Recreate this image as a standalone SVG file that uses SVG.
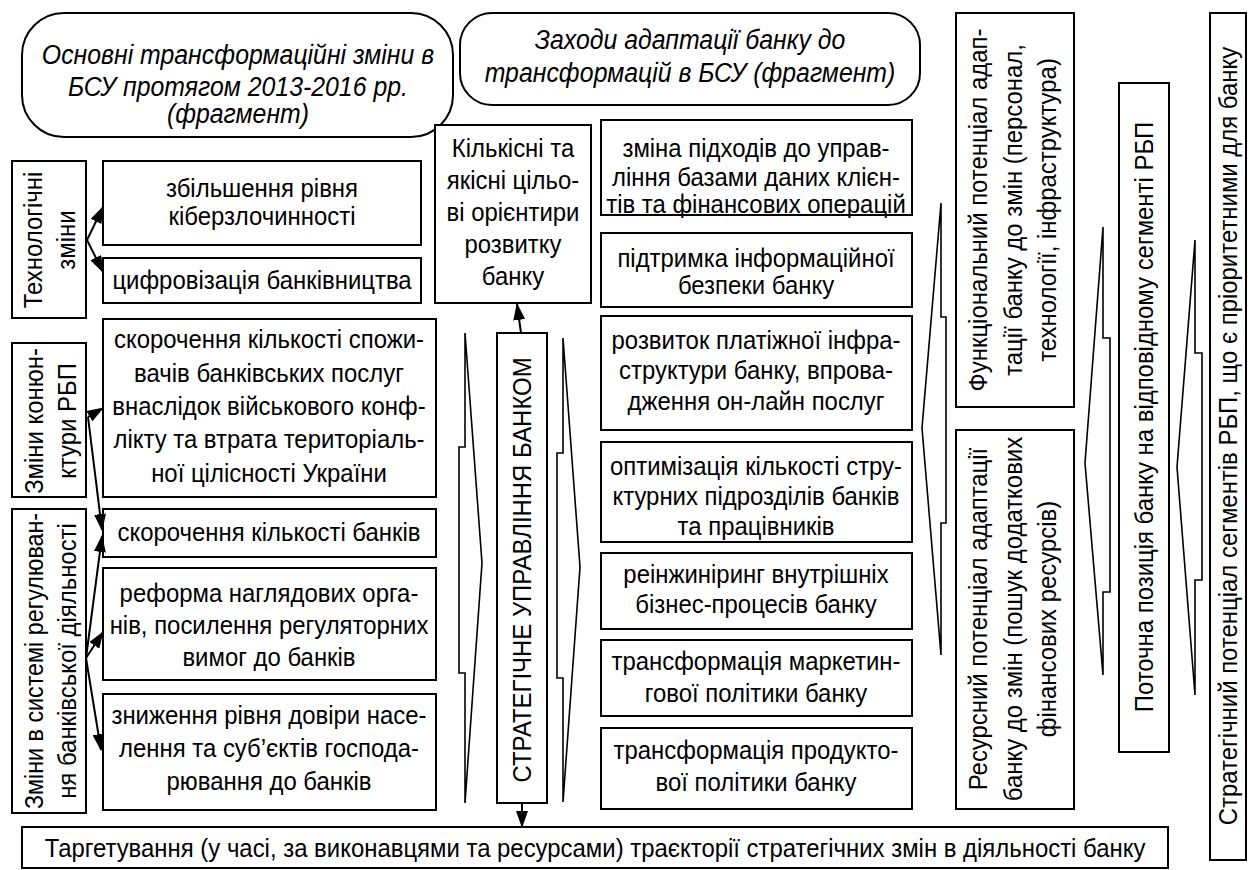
<svg xmlns="http://www.w3.org/2000/svg" width="1248" height="870" viewBox="0 0 1248 870">
<style>
.b{fill:#fff;stroke:#000;stroke-width:2}
.ch{fill:none;stroke:#000;stroke-width:1.6;stroke-linejoin:miter}
.t{font-family:"Liberation Sans",Arial,sans-serif;font-size:26px;text-anchor:middle;fill:#000}
.i{font-style:italic;font-size:27px}
.c{fill:none;stroke:#000;stroke-width:2}
</style>
<defs>
<marker id="ah" markerUnits="userSpaceOnUse" markerWidth="17" markerHeight="12" refX="16" refY="6" orient="auto">
<path d="M0,0 L17,6 L0,12 Z" fill="#000"/>
</marker>
</defs>
<rect width="1248" height="870" fill="#fff"/>

<g id="header1">
<rect class="b" x="22" y="13" width="431" height="124" rx="42" ry="42"/>
<text class="t i" transform="translate(238,64) scale(.92,1)">Основні трансформаційні зміни в</text>
<text class="t i" transform="translate(238,96) scale(.92,1)">БСУ протягом 2013-2016 рр.</text>
<text class="t i" transform="translate(238,123) scale(.92,1)">(фрагмент)</text>
</g>
<g id="header2">
<rect class="b" x="460" y="13" width="460" height="92" rx="32" ry="32"/>
<text class="t i" transform="translate(690,49) scale(.92,1)">Заходи адаптації банку до</text>
<text class="t i" transform="translate(690,82) scale(.92,1)">трансформацій  в БСУ (фрагмент)</text>
</g>

<g id="tech">
<rect class="b" x="12" y="161" width="74" height="157"/>
<text class="t" transform="translate(49,240) rotate(-90) scale(.92,1)"><tspan x="0" y="-7">Технологічні</tspan><tspan x="0" y="26">зміни</tspan></text>
</g>
<g id="konj">
<rect class="b" x="12" y="343" width="74" height="154"/>
<text class="t" transform="translate(49,421) rotate(-90) scale(.92,1)"><tspan x="0" y="-6">Зміни конюн-</tspan><tspan x="0" y="27">ктури РБП</tspan></text>
</g>
<g id="reg">
<rect class="b" x="12" y="509" width="74" height="304"/>
<text class="t" transform="translate(49,661) rotate(-90) scale(.92,1)"><tspan x="0" y="-6" textLength="322" lengthAdjust="spacingAndGlyphs">Зміни в системі регулюван-</tspan><tspan x="0" y="27">ня банківської діяльності</tspan></text>
</g>

<g id="l1">
<rect class="b" x="103" y="161" width="318" height="84"/>
<text class="t" transform="translate(262,197) scale(.92,1)">збільшення рівня</text>
<text class="t" transform="translate(262,225) scale(.92,1)">кіберзлочинності</text>
</g>
<g id="l2">
<rect class="b" x="103" y="258" width="318" height="45"/>
<text class="t" transform="translate(262,289) scale(.92,1)">цифровізація банківництва</text>
</g>
<g id="l3">
<rect class="b" x="103" y="319" width="333" height="178"/>
<text class="t" transform="translate(269,348) scale(.92,1)">скорочення кількості спожи-</text>
<text class="t" transform="translate(269,382) scale(.92,1)">вачів банківських послуг</text>
<text class="t" transform="translate(269,415) scale(.92,1)">внаслідок військового конф-</text>
<text class="t" transform="translate(269,448) scale(.92,1)">лікту та втрата територіаль-</text>
<text class="t" transform="translate(269,482) scale(.92,1)">ної цілісності України</text>
</g>
<g id="l4">
<rect class="b" x="103" y="509" width="333" height="48"/>
<text class="t" transform="translate(269,541) scale(.92,1)">скорочення кількості банків</text>
</g>
<g id="l5">
<rect class="b" x="103" y="568" width="333" height="112"/>
<text class="t" transform="translate(269,602) scale(.92,1)">реформа наглядових орга-</text>
<text class="t" transform="translate(269,634) scale(.92,1)">нів, посилення регуляторних</text>
<text class="t" transform="translate(269,666) scale(.92,1)">вимог до банків</text>
</g>
<g id="l6">
<rect class="b" x="103" y="694" width="333" height="116"/>
<text class="t" transform="translate(269,724) scale(.92,1)">зниження рівня довіри насе-</text>
<text class="t" transform="translate(269,757) scale(.92,1)">лення та суб’єктів господа-</text>
<text class="t" transform="translate(269,790) scale(.92,1)">рювання до банків</text>
</g>

<g id="target">
<rect class="b" x="435" y="125" width="156" height="178"/>
<text class="t" transform="translate(513,157) scale(.92,1)">Кількісні та</text>
<text class="t" transform="translate(513,189) scale(.92,1)">якісні цільо-</text>
<text class="t" transform="translate(513,221) scale(.92,1)">ві орієнтири</text>
<text class="t" transform="translate(513,253) scale(.92,1)">розвитку</text>
<text class="t" transform="translate(513,285) scale(.92,1)">банку</text>
</g>

<g id="strat">
<rect class="b" x="497" y="333" width="50" height="470"/>
<text class="t" transform="translate(522,570) rotate(-90) scale(.92,1)" x="0" y="9">СТРАТЕГІЧНЕ УПРАВЛІННЯ БАНКОМ</text>
</g>

<g id="m1">
<rect class="b" x="601" y="120" width="311" height="95"/>
<text class="t" transform="translate(756,157) scale(.92,1)">зміна підходів до управ-</text>
<text class="t" transform="translate(756,186) scale(.92,1)">ління базами даних клієн-</text>
<text class="t" transform="translate(756,213) scale(.92,1)">тів та фінансових операцій</text>
</g>
<g id="m2">
<rect class="b" x="601" y="233" width="311" height="74"/>
<text class="t" transform="translate(756,267) scale(.92,1)">підтримка інформаційної</text>
<text class="t" transform="translate(756,294) scale(.92,1)">безпеки банку</text>
</g>
<g id="m3">
<rect class="b" x="601" y="316" width="311" height="114"/>
<text class="t" transform="translate(756,349) scale(.92,1)">розвиток платіжної інфра-</text>
<text class="t" transform="translate(756,379) scale(.92,1)">структури банку, впрова-</text>
<text class="t" transform="translate(756,410) scale(.92,1)">дження он-лайн послуг</text>
</g>
<g id="m4">
<rect class="b" x="601" y="442" width="311" height="100"/>
<text class="t" transform="translate(756,475) scale(.92,1)">оптимізація кількості стру-</text>
<text class="t" transform="translate(756,505) scale(.92,1)">ктурних підрозділів банків</text>
<text class="t" transform="translate(756,535) scale(.92,1)">та працівників</text>
</g>
<g id="m5">
<rect class="b" x="601" y="553" width="311" height="76"/>
<text class="t" transform="translate(756,583) scale(.92,1)">реінжиніринг внутрішніх</text>
<text class="t" transform="translate(756,613) scale(.92,1)">бізнес-процесів банку</text>
</g>
<g id="m6">
<rect class="b" x="601" y="640" width="311" height="76"/>
<text class="t" transform="translate(756,670) scale(.92,1)">трансформація маркетин-</text>
<text class="t" transform="translate(756,702) scale(.92,1)">гової політики банку</text>
</g>
<g id="m7">
<rect class="b" x="601" y="728" width="311" height="81"/>
<text class="t" transform="translate(756,759) scale(.92,1)">трансформація продукто-</text>
<text class="t" transform="translate(756,791) scale(.92,1)">вої політики банку</text>
</g>

<g id="func">
<rect class="b" x="956" y="13" width="118" height="394"/>
<text class="t" transform="translate(1015,210) rotate(-90) scale(.92,1)"><tspan x="0" y="-28">Функціональний потенціал адап-</tspan><tspan x="0" y="7">тації банку до змін (персонал,</tspan><tspan x="0" y="41">технології, інфраструктура)</tspan></text>
</g>
<g id="res">
<rect class="b" x="956" y="430" width="118" height="379"/>
<text class="t" transform="translate(1015,619) rotate(-90) scale(.92,1)"><tspan x="0" y="-28">Ресурсний потенціал адаптації</tspan><tspan x="0" y="7">банку до змін (пошук додаткових</tspan><tspan x="0" y="41">фінансових ресурсів)</tspan></text>
</g>
<g id="pos">
<rect class="b" x="1119" y="83" width="50" height="669"/>
<text class="t" transform="translate(1144,417) rotate(-90) scale(.92,1)" x="0" y="9">Поточна позиція банку на відповідному сегменті РБП</text>
</g>
<g id="sp">
<rect class="b" x="1210" y="13" width="36" height="847"/>
<text class="t" transform="translate(1228,436) rotate(-90) scale(.92,1)" x="0" y="9">Стратегічний потенціал сегментів РБП, що є пріоритетними для банку</text>
</g>

<g id="bottom">
<rect class="b" x="22" y="827" width="1146" height="41"/>
<text class="t" transform="translate(595,857) scale(.92,1)">Таргетування (у часі, за виконавцями та ресурсами) траєкторії стратегічних змін в діяльності банку</text>
</g>

<g id="connectors">
<polygon class="ch" points="465,333 482,563 465,803 465,673 459,673 459,447 465,447"/>
<polygon class="ch" points="563,338 580,567 563,802 563,678 557,678 557,453 563,453"/>
<polygon class="ch" points="941,203 922,428 941,655 941,523 946,523 946,317 941,317"/>
<polygon class="ch" points="1103,227 1085,463 1103,675 1103,592 1110,592 1110,338 1103,338"/>
<polygon class="ch" points="1195,240 1177,467 1195,695 1195,580 1202,580 1202,353 1195,353"/>
<line class="c" x1="87" y1="240" x2="103" y2="207" marker-end="url(#ah)"/>
<line class="c" x1="87" y1="240" x2="103" y2="272" marker-end="url(#ah)"/>
<line class="c" x1="88" y1="417" x2="103" y2="408" marker-end="url(#ah)"/>
<line class="c" x1="88" y1="417" x2="102" y2="530" marker-end="url(#ah)"/>
<line class="c" x1="86" y1="658" x2="102" y2="536" marker-end="url(#ah)"/>
<line class="c" x1="86" y1="658" x2="103" y2="632" marker-end="url(#ah)"/>
<line class="c" x1="86" y1="658" x2="101" y2="750" marker-end="url(#ah)"/>
<line class="c" x1="521" y1="333" x2="517" y2="304" marker-end="url(#ah)"/>
<line class="c" x1="522" y1="803" x2="522" y2="827" marker-end="url(#ah)"/>
</g>
</svg>
